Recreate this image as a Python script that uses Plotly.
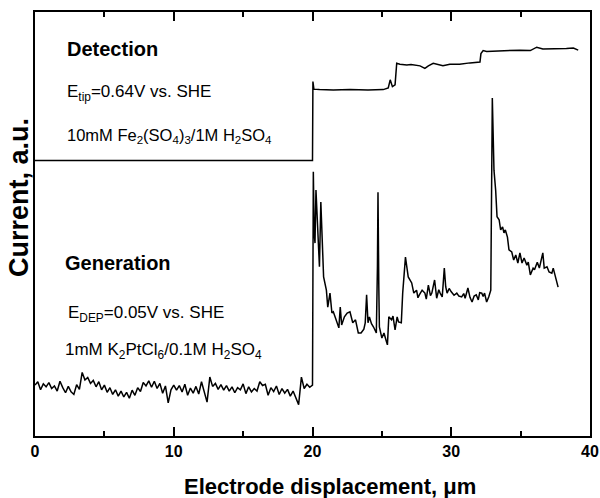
import plotly.graph_objects as go

# ---- data (arbitrary current units, 0-100) ----
det_x = [0, 20.0, 20.03, 20.1, 20.5, 21.5, 22.7, 24.0, 25.1, 25.46, 25.6, 25.76, 25.95,
         26.07, 26.3, 26.8, 27.1, 27.4, 27.75, 28.1, 28.35, 28.7, 29.07, 29.4, 29.9,
         30.6, 31.35, 32.07, 32.14, 32.3, 32.55, 33.28, 34.0, 34.95, 35.7, 36.16,
         36.6, 37.35, 38.3, 38.8, 39.15]
det_y = [65.0, 65.0, 83.6, 81.8, 81.7, 81.6, 81.7, 81.6, 81.7, 82.1, 84.0, 82.4, 82.8,
         87.9, 87.7, 87.5, 87.6, 87.5, 87.3, 86.7, 87.3, 87.9, 87.5, 87.3, 87.7,
         87.7, 88.0, 88.2, 90.2, 90.9, 90.7, 90.8, 91.0, 91.0, 90.9, 91.7,
         91.3, 91.3, 91.4, 91.5, 91.0]

gen_base_x = [round(0.2 * i, 1) for i in range(100)]
gen_base_y = [12.0, 12.8, 10.9, 12.3, 11.6, 12.6, 11.2, 11.8, 10.6, 12.9, 11.4,
              10.2, 11.7, 10.4, 9.8, 12.1, 11.0, 15.0, 13.2, 13.8, 12.4,
              13.1, 11.6, 12.8, 10.9, 12.0, 10.3, 11.4, 9.8, 10.9, 9.4,
              10.6, 9.2, 10.3, 8.9, 10.8, 9.6, 11.4, 10.5, 12.6, 11.8,
              13.0, 11.5, 12.9, 11.2, 12.4, 10.1, 11.8, 7.8, 10.9, 12.0,
              10.8, 11.9, 10.4, 12.2, 9.6, 11.3, 10.1, 11.7, 9.9, 12.8,
              10.6, 8.0, 13.9, 11.7, 12.4, 11.0, 12.1, 10.8, 11.9, 10.6,
              11.6, 10.2, 11.4, 10.9, 12.3, 10.0, 11.6, 10.4, 11.2, 10.6,
              12.8, 11.9, 12.2, 9.6, 11.4, 10.5, 11.8, 9.8, 11.2, 10.1,
              11.0, 9.4, 10.6, 8.9, 7.4, 13.9, 11.2, 12.2, 11.5]

gen_x2 = [20.0, 20.06, 20.12, 20.18, 20.25, 20.3, 20.4, 20.5, 20.6, 20.7, 20.8, 21.0,
          21.1, 21.26, 21.4, 21.5, 21.6, 21.7, 21.9, 22.0, 22.1, 22.3, 22.5, 22.7,
          22.9, 23.1, 23.3, 23.5, 23.7, 23.8, 23.9, 24.0, 24.1, 24.25, 24.4, 24.6,
          24.68, 24.72, 24.78, 24.82, 25.0, 25.15, 25.3, 25.4, 25.5, 25.7, 25.8,
          25.95, 26.1, 26.2, 26.4, 26.5, 26.7, 26.9, 27.15, 27.3, 27.5, 27.6, 27.7,
          27.9, 28.1, 28.2, 28.35, 28.5, 28.6, 28.8, 28.95, 29.1, 29.2, 29.35, 29.5,
          29.6, 29.7, 29.85, 30.0, 30.2, 30.4, 30.55, 30.75, 30.9, 31.0, 31.2, 31.35,
          31.5, 31.65, 31.8, 31.95, 32.05, 32.2, 32.3, 32.4, 32.55, 32.7, 32.85,
          32.96, 33.03, 33.08, 33.2, 33.3, 33.45, 33.56, 33.7, 33.8, 33.9, 34.05,
          34.16, 34.36, 34.5, 34.65, 34.8, 34.95, 35.1, 35.25, 35.45, 35.55, 35.7,
          35.9, 36.0, 36.2, 36.35, 36.6, 36.7, 36.9, 37.05, 37.25, 37.35, 37.55, 37.7]
gen_y2 = [12.0, 62.3, 48.0, 45.5, 58.0, 55.0, 48.6, 39.9, 55.2, 45.5, 37.5, 34.4,
          30.4, 33.7, 29.0, 29.3, 28.1, 27.4, 25.5, 30.4, 26.2, 28.1, 29.0, 29.3,
          26.7, 27.4, 24.3, 24.3, 25.2, 26.7, 33.3, 26.7, 28.1, 26.5, 25.7, 24.3,
          40.0, 57.5, 35.0, 25.7, 23.1, 24.3, 22.6, 21.5, 28.1, 27.4, 28.3,
          25.0, 28.1, 26.9, 26.7, 33.7, 42.2, 37.5, 36.1, 33.7, 34.4, 32.6, 33.3,
          34.4, 33.7, 32.3, 35.6, 33.1, 33.7, 36.8, 32.5, 34.5, 33.7, 32.8, 39.6,
          35.2, 33.7, 34.8, 34.0, 33.2, 33.7, 33.0, 32.8, 33.6, 32.5, 34.9, 32.7,
          31.6, 33.0, 33.3, 32.1, 33.8, 33.7, 32.9, 33.7, 31.6, 32.8, 34.4,
          79.7, 68.2, 62.7, 58.0, 51.7, 51.0, 48.6, 49.3, 47.9, 48.6, 46.9,
          43.9, 43.4, 41.5, 42.7, 40.8, 43.2, 40.8, 42.0, 40.3, 41.0, 38.0,
          39.6, 39.2, 41.0, 39.6, 43.2, 39.6, 39.9, 38.7, 38.4, 39.6, 36.8, 35.1]

gen_x = gen_base_x + gen_x2
gen_y = gen_base_y + gen_y2

x_ticks = [0, 10, 20, 30, 40]

FONT = "Liberation Sans, Arial, sans-serif"

# plot area in pixels: x 35..590, y 12..436
L, R, T, B = 35, 590, 12, 436


def px(xp):
    return (xp - L) / (R - L)


def py(yp):
    return (B - yp) / (B - T)


fig = go.Figure()
fig.add_trace(go.Scatter(x=det_x, y=det_y, mode="lines",
                         line=dict(color="black", width=1.5), showlegend=False))
fig.add_trace(go.Scatter(x=gen_x, y=gen_y, mode="lines",
                         line=dict(color="black", width=1.5), showlegend=False))

ann = [
    ("<b>Detection</b>", 2.16, 91.3, 20),
    ("E<sub>tip</sub>=0.64V vs. SHE", 2.16, 81.0, 17),
    ("10mM Fe<sub>2</sub>(SO<sub>4</sub>)<sub>3</sub>/1M H<sub>2</sub>SO<sub>4</sub>", 2.16, 70.8, 16.5),
    ("<b>Generation</b>", 2.0, 40.8, 20),
    ("E<sub>DEP</sub>=0.05V vs. SHE", 2.23, 28.7, 17),
    ("1mM K<sub>2</sub>PtCl<sub>6</sub>/0.1M H<sub>2</sub>SO<sub>4</sub>", 2.0, 20.0, 17),
]
for t, x, y, s in ann:
    fig.add_annotation(text=t, x=x, y=y, xref="x", yref="y", xanchor="left",
                       yanchor="middle", showarrow=False,
                       font=dict(family=FONT, size=s, color="black"))

fig.add_annotation(text="<b>Electrode displacement, μm</b>", x=px(330), y=py(486),
                   xref="paper", yref="paper", xanchor="center", yanchor="middle",
                   showarrow=False, font=dict(family=FONT, size=22, color="black"))
fig.add_annotation(text="<b>Current, a.u.</b>", x=px(19), y=py(198),
                   xref="paper", yref="paper", xanchor="center", yanchor="middle",
                   textangle=-90, showarrow=False,
                   font=dict(family=FONT, size=27, color="black"))

fig.update_layout(
    width=600, height=498,
    margin=dict(l=L, r=600 - R, t=T, b=498 - B, autoexpand=False),
    plot_bgcolor="white", paper_bgcolor="white",
    xaxis=dict(range=[0, 40], tickvals=x_ticks, ticktext=[f"<b>{v}</b>" for v in x_ticks],
               ticks="inside", ticklen=9, tickwidth=1.5, tickcolor="black",
               minor=dict(ticks="inside", dtick=5, ticklen=5, tickwidth=1.5, tickcolor="black"),
               showline=True, linewidth=2, linecolor="black", mirror="ticks",
               showgrid=False, zeroline=False, automargin=False,
               ticklabeloverflow="allow",
               tickfont=dict(family=FONT, size=16, color="black")),
    yaxis=dict(range=[0, 100], showticklabels=False, ticks="",
               showline=True, linewidth=2, linecolor="black", mirror=True,
               showgrid=False, zeroline=False, automargin=False),
)

fig.write_html("out.html")
